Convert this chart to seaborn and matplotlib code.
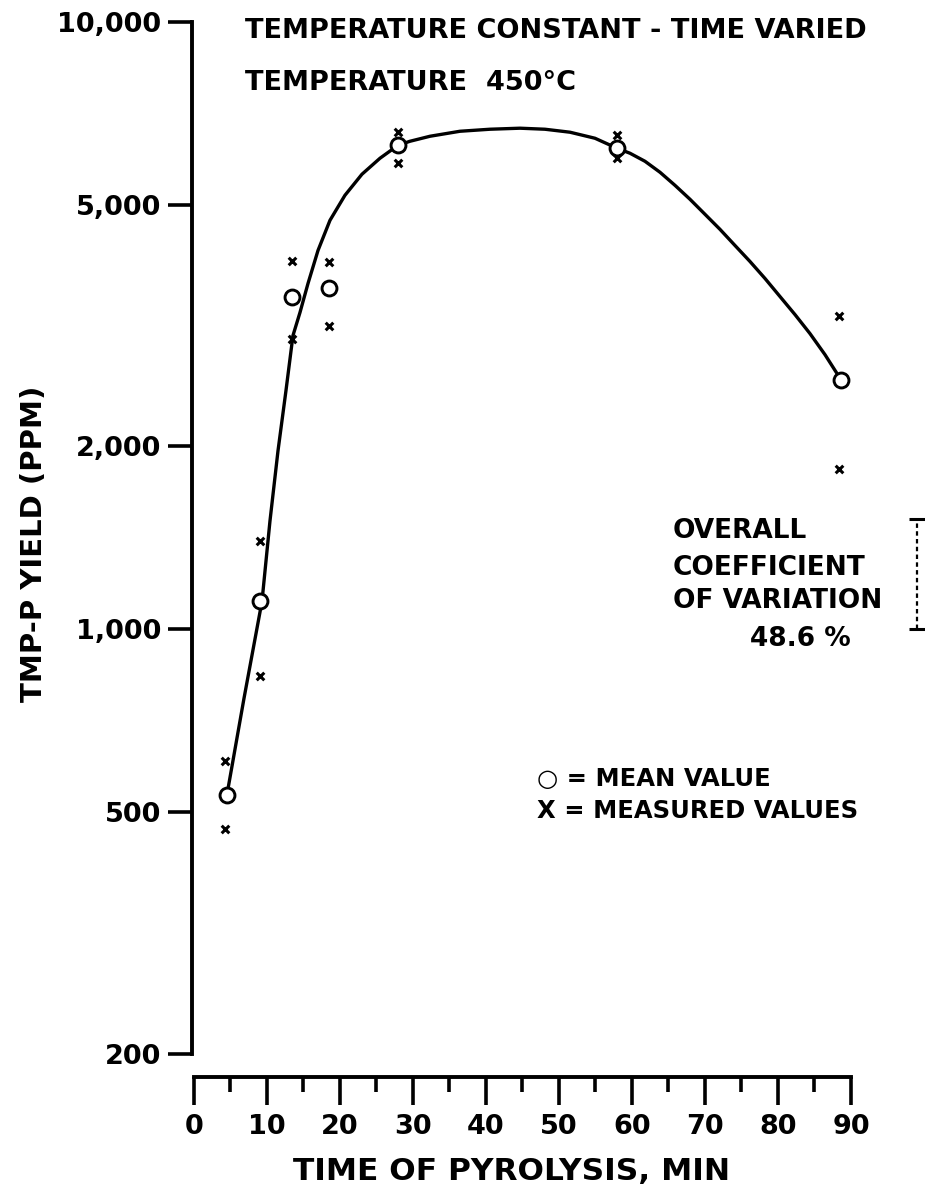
import numpy as np
import pandas as pd
import seaborn as sns
import matplotlib.pyplot as plt
from matplotlib.ticker import FixedLocator, NullLocator


# values (time in min, yield in ppm)
mean_time = [4.5, 9.0, 13.4, 18.5, 27.9, 57.9, 88.6]
mean_ppm = [534, 1112, 3518, 3653, 6266, 6196, 2575]

meas_time = [4.3, 9.0, 13.4, 18.5, 28.0, 57.9, 88.4]
meas_high = [606, 1397, 4033, 4018, 6585, 6509, 3285]
meas_low = [468, 836, 3009, 3162, 5852, 5965, 1837]

# hand-drawn smooth curve, traced point by point
curve_time = [4.52, 6.85, 9.32, 10.41, 11.51, 12.60, 13.56, 14.52, 15.62,
              16.99, 18.63, 20.68, 23.01, 25.48, 27.95, 29.59, 32.33, 36.44,
              40.55, 44.66, 48.08, 51.51, 54.93, 57.95, 59.73, 61.78, 63.84,
              65.89, 67.95, 70.0, 72.05, 74.11, 76.16, 78.22, 80.27, 82.33,
              84.38, 86.44, 88.63]
curve_ppm = [534, 769, 1112, 1507, 1967, 2470, 3045, 3323, 3710,
             4205, 4714, 5183, 5614, 5965, 6266, 6362, 6484, 6608,
             6659, 6685, 6659, 6584, 6435, 6196, 6079, 5897, 5656,
             5383, 5105, 4823, 4556, 4285, 4033, 3781, 3531, 3297,
             3068, 2832, 2575]

# coefficient of variation bar (right margin)
cv_time = 99
cv_low = 1000
cv_high = 1520

y_ticks = [200, 500, 1000, 2000, 5000, 10000]
y_labels = ['200', '500', '1,000', '2,000', '5,000', '10,000']
x_major = list(range(0, 91, 10))
x_minor = list(range(5, 90, 10))

meas = pd.DataFrame({'time': meas_time * 2, 'ppm': meas_high + meas_low})

sns.set_style("ticks")
plt.rcParams['font.family'] = ['DejaVu Sans']
plt.rcParams['font.weight'] = 'bold'
for key in ['text.color', 'axes.labelcolor', 'xtick.color', 'ytick.color',
            'axes.edgecolor']:
    plt.rcParams[key] = 'black'

fig = plt.figure(figsize=(9.25, 11.93), dpi=100)
ax = fig.add_axes([192 / 925, (1193 - 1077) / 1193, 732 / 925, 1067 / 1193])

sns.lineplot(x=curve_time, y=curve_ppm, color='black', linewidth=2.4,
             errorbar=None, ax=ax, zorder=2)
sns.scatterplot(x=mean_time, y=mean_ppm, marker='o', s=115, facecolor='white',
                edgecolor='black', linewidth=2.1, ax=ax, zorder=3)
sns.scatterplot(data=meas, x='time', y='ppm', marker='x', s=30, color='black',
                linewidth=2.2, ax=ax, zorder=4)

# CV bar, drawn outside the x axis range
ax.plot([cv_time, cv_time], [cv_low, cv_high], color='black', lw=1.6,
        linestyle=(0, (2, 1.5)), clip_on=False)
ax.plot([cv_time, cv_time], [cv_low, cv_high], color='black', marker='_',
        markersize=12, mew=2.2, linestyle='none', clip_on=False)

ax.set_yscale('log')
ax.set_xlim(-0.27, 100)
ax.set_ylim(183, 10466)

ax.yaxis.set_major_locator(FixedLocator(y_ticks))
ax.yaxis.set_minor_locator(NullLocator())
ax.set_yticklabels(y_labels)
ax.xaxis.set_major_locator(FixedLocator(x_major))
ax.xaxis.set_minor_locator(FixedLocator(x_minor))

ax.tick_params(axis='y', which='major', length=17, width=2.6, labelsize=19.5,
               pad=5, direction='out')
ax.tick_params(axis='x', which='major', length=20, width=2.6, labelsize=19.5,
               pad=7, direction='out')
ax.tick_params(axis='x', which='minor', length=11, width=2.6)

for s in ['top', 'right']:
    ax.spines[s].set_visible(False)
ax.spines['left'].set_bounds(200, 10000)
ax.spines['bottom'].set_bounds(0, 90)
ax.spines['left'].set_linewidth(2.8)
ax.spines['bottom'].set_linewidth(2.8)

ax.set_xlabel('TIME OF PYROLYSIS, MIN', fontsize=22.5, fontweight='bold')
ax.xaxis.set_label_coords((512 - 192) / 732, -0.075)
ax.set_ylabel('TMP-P YIELD (PPM)', fontsize=21, fontweight='bold')
ax.yaxis.set_label_coords(-0.197, 0.5)

ax.text(7, 9670, 'TEMPERATURE CONSTANT - TIME VARIED', fontsize=19.5,
        va='center', ha='left')
ax.text(7, 7930, 'TEMPERATURE  450°C', fontsize=19.5, va='center', ha='left')

ax.text(65.6, 1451, 'OVERALL', fontsize=19, va='center', ha='left')
ax.text(65.6, 1261, 'COEFFICIENT', fontsize=19, va='center', ha='left')
ax.text(65.6, 1112, 'OF VARIATION', fontsize=19, va='center', ha='left')
ax.text(76.2, 963, '48.6 %', fontsize=19, va='center', ha='left')

ax.text(47, 566, '○ = MEAN VALUE', fontsize=17.5, va='center', ha='left')
ax.text(47, 501, 'X = MEASURED VALUES', fontsize=17.5, va='center', ha='left')

fig.savefig('out.png', dpi=100)
